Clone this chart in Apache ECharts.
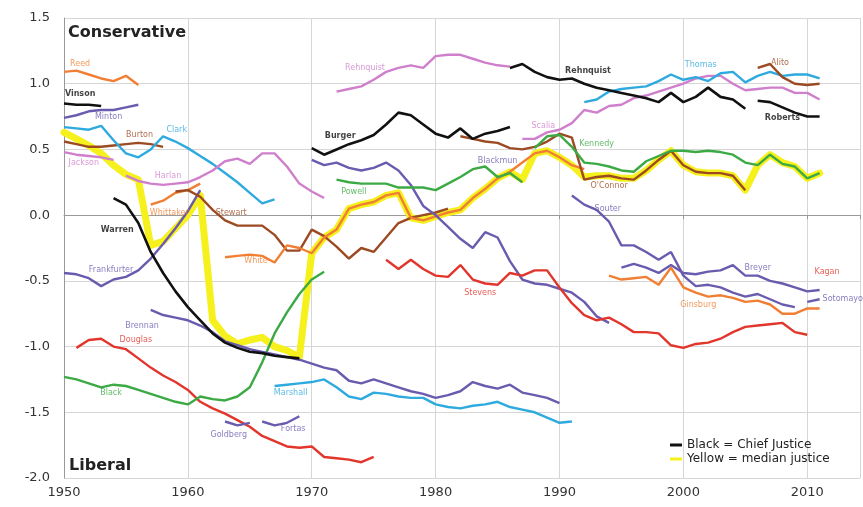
<!DOCTYPE html>
<html><head><meta charset="utf-8">
<script src="https://cdn.jsdelivr.net/npm/echarts@6/dist/echarts.min.js"></script>
<style>html,body{margin:0;padding:0;background:#fff}#c{width:863px;height:507px}</style>
</head><body><div id="c"></div>
<script>
// ---- axis ticks ----
const xTicks = [1950, 1960, 1970, 1980, 1990, 2000, 2010];
const yTicks = [-2.0, -1.5, -1.0, -0.5, 0.0, 0.5, 1.0, 1.5];

// ---- median justice (yellow) ----
const medianStart = 1950;
const median = [0.63,0.58,0.53,0.47,0.38,0.31,0.27,-0.23,-0.20,-0.10,
  0.00,0.15,-0.80,-0.92,-0.98,-0.95,-0.93,-1.00,-1.03,-1.08,
  -0.29,-0.17,-0.11,0.05,0.08,0.10,0.15,0.17,-0.02,-0.04,
  -0.01,0.02,0.04,0.13,0.20,0.28,0.33,0.27,0.47,0.49,
  0.44,0.38,0.29,0.30,0.30,0.28,0.28,0.34,0.42,0.49,
  0.38,0.33,0.32,0.32,0.30,0.19,0.38,0.46,0.40,0.37,0.28,0.32];

// ---- justices: start year + yearly scores ----
const reedStart = 1950, reed = [1.09,1.10,1.07,1.04,1.02,1.06,0.99];
const vinsonStart = 1950, vinson = [0.85,0.84,0.84,0.83];
const mintonStart = 1950, minton = [0.74,0.76,0.79,0.80,0.80,0.82,0.84];
const burtonStart = 1950, burton = [0.56,0.54,0.52,0.52,0.53,0.54,0.55,0.54,0.52];
const clarkStart = 1950, clark = [0.67,0.66,0.65,0.68,0.57,0.47,0.44,0.50,0.60,0.56,0.51,0.45,0.39,0.32,0.25,0.17,0.09,0.12];
const jacksonStart = 1950, jackson = [0.48,0.46,0.45,0.44,0.42];
const harlanStart = 1955, harlan = [0.30,0.26,0.24,0.23,0.24,0.25,0.29,0.34,0.41,0.43,0.39,0.47,0.47,0.37,0.24,0.18,0.13];
const frankfurterStart = 1950, frankfurter = [-0.44,-0.45,-0.48,-0.54,-0.49,-0.47,-0.42,-0.33,-0.22,-0.10,0.03,0.19];
const warrenStart = 1954, warren = [0.13,0.08,-0.06,-0.28,-0.44,-0.58,-0.70,-0.80,-0.90,-0.97,-1.01,-1.04,-1.05,-1.07,-1.08,-1.09];
const douglasStart = 1951, douglas = [-1.01,-0.95,-0.94,-1.00,-1.02,-1.09,-1.16,-1.22,-1.27,-1.33,-1.42,-1.47,-1.51,-1.56,-1.61,-1.68,-1.72,-1.76,-1.77,-1.76,-1.84,-1.85,-1.86,-1.88,-1.84];
const blackStart = 1950, black = [-1.23,-1.25,-1.28,-1.31,-1.29,-1.30,-1.33,-1.36,-1.39,-1.42,-1.44,-1.38,-1.40,-1.41,-1.38,-1.31,-1.12,-0.90,-0.74,-0.60,-0.49,-0.43];
const brennanStart = 1957, brennan = [-0.72,-0.76,-0.78,-0.80,-0.84,-0.89,-0.96,-0.99,-1.02,-1.04,-1.06,-1.08,-1.10,-1.13,-1.16,-1.18,-1.26,-1.28,-1.25,-1.28,-1.31,-1.34,-1.36,-1.39,-1.37,-1.34,-1.27,-1.30,-1.32,-1.29,-1.35,-1.37,-1.39,-1.43];
const whittakerStart = 1957, whittaker = [0.08,0.11,0.17,0.19,0.24];
const stewartStart = 1959, stewart = [0.18,0.19,0.14,0.04,-0.04,-0.08,-0.08,-0.08,-0.15,-0.27,-0.27,-0.11,-0.16,-0.24,-0.33,-0.25,-0.28,-0.17,-0.06,-0.02,0.00,0.02,0.05];
const whiteStart = 1963, white = [-0.32,-0.31,-0.30,-0.31,-0.36,-0.23,-0.25,-0.29,-0.17,-0.11,0.05,0.08,0.10,0.15,0.17,-0.02,-0.04,-0.01,0.02,0.04,0.13,0.20,0.28,0.33,0.40,0.47,0.49,0.44,0.38,0.35];
const goldbergStart = 1963, goldberg = [-1.57,-1.60,-1.58];
const fortasStart = 1966, fortas = [-1.57,-1.60,-1.58,-1.53];
const marshallStart = 1967, marshall = [-1.30,-1.29,-1.28,-1.27,-1.25,-1.31,-1.38,-1.40,-1.35,-1.36,-1.38,-1.39,-1.39,-1.44,-1.46,-1.47,-1.45,-1.44,-1.42,-1.46,-1.48,-1.50,-1.54,-1.58,-1.57];
const burgerStart = 1970, burger = [0.51,0.46,0.50,0.54,0.57,0.61,0.69,0.78,0.76,0.69,0.62,0.59,0.66,0.58,0.62,0.64,0.67];
const blackmunStart = 1970, blackmun = [0.42,0.38,0.40,0.36,0.34,0.36,0.40,0.34,0.23,0.07,0.00,-0.09,-0.18,-0.25,-0.13,-0.17,-0.35,-0.49,-0.52,-0.53,-0.56,-0.59,-0.66,-0.77,-0.82];
const rehnquistStart = 1972, rehnquist = [0.94,0.96,0.98,1.03,1.09,1.12,1.14,1.12,1.21,1.22,1.22,1.19,1.16,1.14,1.13];
const rehnquistCJStart = 1986, rehnquistCJ = [1.12,1.15,1.09,1.05,1.03,1.04,1.00,0.97,0.95,0.93,0.91,0.89,0.86,0.93,0.86,0.90,0.97,0.90,0.88,0.81];
const powellStart = 1972, powell = [0.27,0.25,0.24,0.24,0.24,0.21,0.21,0.21,0.19,0.24,0.29,0.35,0.37,0.29,0.32,0.25];
const stevensStart = 1976, stevens = [-0.34,-0.41,-0.34,-0.41,-0.46,-0.47,-0.38,-0.49,-0.52,-0.53,-0.44,-0.46,-0.42,-0.42,-0.55,-0.67,-0.76,-0.80,-0.78,-0.83,-0.89,-0.89,-0.90,-0.99,-1.01,-0.98,-0.97,-0.94,-0.89,-0.85,-0.84,-0.83,-0.82,-0.89,-0.91];
const oconnorStart = 1982, oconnor = [0.60,0.58,0.56,0.55,0.51,0.50,0.52,0.56,0.62,0.59,0.27,0.29,0.30,0.28,0.27,0.34,0.42,0.49,0.38,0.33,0.32,0.32,0.30,0.19];
const scaliaStart = 1987, scalia = [0.58,0.58,0.63,0.65,0.70,0.80,0.78,0.83,0.84,0.89,0.91,0.94,0.97,1.00,1.04,1.06,1.06,1.00,0.95,0.96,0.97,0.97,0.93,0.93,0.88];
const kennedyStart = 1988, kennedy = [0.51,0.60,0.61,0.52,0.40,0.39,0.37,0.34,0.33,0.41,0.45,0.49,0.49,0.48,0.49,0.48,0.46,0.40,0.38,0.46,0.39,0.37,0.28,0.32];
const souterStart = 1991, souter = [0.15,0.08,0.04,-0.05,-0.23,-0.23,-0.28,-0.34,-0.28,-0.46,-0.54,-0.53,-0.55,-0.59,-0.62,-0.60,-0.64,-0.68,-0.70];
const thomasStart = 1992, thomas = [0.86,0.88,0.94,0.96,0.97,0.98,1.02,1.07,1.03,1.05,1.02,1.08,1.09,1.01,1.06,1.09,1.06,1.07,1.07,1.04];
const ginsburgStart = 1994, ginsburg = [-0.46,-0.49,-0.48,-0.47,-0.53,-0.40,-0.55,-0.59,-0.62,-0.61,-0.63,-0.66,-0.65,-0.68,-0.75,-0.75,-0.71,-0.71];
const breyerStart = 1995, breyer = [-0.40,-0.37,-0.40,-0.44,-0.38,-0.44,-0.45,-0.43,-0.42,-0.38,-0.46,-0.46,-0.50,-0.52,-0.55,-0.58,-0.57];
const alitoStart = 2006, alito = [1.12,1.15,1.05,1.00,0.99,1.00];
const robertsStart = 2006, roberts = [0.87,0.86,0.82,0.78,0.75,0.75];
const sotomayorStart = 2010, sotomayor = [-0.66,-0.64];

// ---- name labels ----
const labelText = ['Reed','Vinson','Minton','Burton','Clark','Jackson','Harlan','Whittaker','Stewart','Warren','Frankfurter','White','Brennan','Douglas','Black','Goldberg','Fortas','Marshall','Rehnquist','Burger','Blackmun','Powell','Stevens','Scalia','Kennedy','Rehnquist','O\'Connor','Souter','Thomas','Alito','Roberts','Breyer','Ginsburg','Kagan','Sotomayor'];
const labelYear = [1951.3,1951.3,1953.6,1956.1,1959.1,1951.6,1958.4,1958.5,1963.5,1954.3,1953.8,1965.5,1956.3,1955.8,1953.8,1963.3,1968.5,1968.3,1974.3,1972.3,1985.0,1973.4,1983.6,1988.7,1993.0,1992.3,1994.0,1993.9,2001.4,2007.8,2008.0,2006.0,2001.2,2011.6,2013.0];
const labelValue = [1.15,0.92,0.75,0.61,0.65,0.40,0.30,0.02,0.02,-0.11,-0.42,-0.35,-0.84,-0.95,-1.35,-1.67,-1.63,-1.35,1.12,0.60,0.41,0.18,-0.59,0.68,0.54,1.10,0.22,0.05,1.14,1.16,0.74,-0.40,-0.68,-0.43,-0.64];

const C = {black:'#111111', orange:'#F07F34', purple:'#6A5BAF', brown:'#9C4A22', blue:'#2EAADF',
  pink:'#CF7FCC', red:'#E2352C', green:'#3CAA44', yellow:'#F6F01C'};
const labelColor = [C.orange,C.black,C.purple,C.brown,C.blue,C.pink,C.pink,C.orange,C.brown,C.black,C.purple,C.orange,C.purple,C.red,C.green,C.purple,C.purple,C.blue,C.pink,C.black,C.purple,C.green,C.red,C.pink,C.green,C.black,C.brown,C.purple,C.blue,C.brown,C.black,C.purple,C.orange,C.red,C.purple];
const labelBold = ['Vinson','Warren','Burger','Roberts'];

function pts(start, vals) { return vals.map((v, i) => [start + i, v]); }

const CJ = 'Black = Chief Justice';
const MED = 'Yellow = median justice';
const justices = [
  ['Reed', reedStart, reed, C.orange], ['Minton', mintonStart, minton, C.purple],
  ['Burton', burtonStart, burton, C.brown], ['Clark', clarkStart, clark, C.blue],
  ['Jackson', jacksonStart, jackson, C.pink], ['Harlan', harlanStart, harlan, C.pink],
  ['Frankfurter', frankfurterStart, frankfurter, C.purple], ['Douglas', douglasStart, douglas, C.red],
  ['Black', blackStart, black, C.green], ['Brennan', brennanStart, brennan, C.purple],
  ['Whittaker', whittakerStart, whittaker, C.orange], ['Stewart', stewartStart, stewart, C.brown],
  ['White', whiteStart, white, C.orange], ['Goldberg', goldbergStart, goldberg, C.purple],
  ['Fortas', fortasStart, fortas, C.purple], ['Marshall', marshallStart, marshall, C.blue],
  ['Blackmun', blackmunStart, blackmun, C.purple], ['Rehnquist', rehnquistStart, rehnquist, C.pink],
  ['Powell', powellStart, powell, C.green], ['Stevens', stevensStart, stevens, C.red],
  ['O\'Connor', oconnorStart, oconnor, C.brown], ['Scalia', scaliaStart, scalia, C.pink],
  ['Kennedy', kennedyStart, kennedy, C.green], ['Souter', souterStart, souter, C.purple],
  ['Thomas', thomasStart, thomas, C.blue], ['Ginsburg', ginsburgStart, ginsburg, C.orange],
  ['Breyer', breyerStart, breyer, C.purple], ['Alito', alitoStart, alito, C.brown],
  ['Sotomayor', sotomayorStart, sotomayor, C.purple]
];
const chiefs = [[vinsonStart, vinson], [warrenStart, warren], [burgerStart, burger], [rehnquistCJStart, rehnquistCJ], [robertsStart, roberts]];

const series = [];
series.push({name: MED, type: 'line', data: pts(medianStart, median), showSymbol: false, symbol: 'none',
  lineStyle: {color: C.yellow, width: 7, join: 'round', cap: 'round'}, itemStyle: {color: C.yellow}, z: 1});
justices.forEach(j => series.push({name: j[0], type: 'line', data: pts(j[1], j[2]), symbol: 'none',
  lineStyle: {color: j[3], width: 2.4}, itemStyle: {color: j[3]}, z: 2}));
chiefs.forEach(c => series.push({name: CJ, type: 'line', data: pts(c[0], c[1]), symbol: 'none',
  lineStyle: {color: C.black, width: 2.6}, itemStyle: {color: C.black}, z: 3}));
series.push({name: 'labels', type: 'scatter', symbolSize: 0, z: 5, silent: true,
  data: labelText.map((t, i) => ({name: t, value: [labelYear[i], labelValue[i]],
    label: {show: true, position: 'inside', formatter: t, color: labelColor[i],
      fontSize: 8, fontFamily: 'DejaVu Sans', fontWeight: labelBold.includes(t) || (t === 'Rehnquist' && i === 25) ? 'bold' : 'normal'}}))
});

const chart = echarts.init(document.getElementById('c'));
chart.setOption({
  animation: false,
  backgroundColor: '#ffffff',
  grid: {left: 64, right: -1, top: 18, bottom: 29},
  xAxis: {type: 'value', min: 1950, max: 2014.26, interval: 10,
    axisLine: {lineStyle: {color: '#999'}}, axisTick: {show: true, length: 4, lineStyle: {color: '#999'}},
    axisLabel: {color: '#333', fontSize: 13, fontFamily: 'DejaVu Sans', margin: 8,
      formatter: v => xTicks.includes(v) ? String(v) : ''},
    splitLine: {show: true, lineStyle: {color: '#d6d6d6'}}},
  yAxis: {type: 'value', min: -2, max: 1.5, interval: 0.5,
    axisLine: {show: true, lineStyle: {color: '#999'}}, axisTick: {show: false},
    axisLabel: {fontSize: 13, fontFamily: 'DejaVu Sans', margin: 14, color: '#333',
      formatter: v => yTicks.includes(v) ? v.toFixed(1) : ''},
    splitLine: {show: true, lineStyle: {color: '#d6d6d6'}}},
  legend: {data: [CJ, MED], orient: 'vertical', left: 665, top: 434, itemGap: 2, itemWidth: 12, itemHeight: 3,
    icon: 'rect', textStyle: {fontSize: 12, fontFamily: 'DejaVu Sans', color: '#222'}, selectedMode: false},
  graphic: [
    {type: 'text', left: 68, top: 25, style: {text: 'Conservative', fontSize: 16, fontWeight: 'bold', fontFamily: 'DejaVu Sans', fill: '#222'}},
    {type: 'text', left: 69, top: 458, style: {text: 'Liberal', fontSize: 16, fontWeight: 'bold', fontFamily: 'DejaVu Sans', fill: '#222'}}
  ],
  series: series
});
</script>
</body></html>
